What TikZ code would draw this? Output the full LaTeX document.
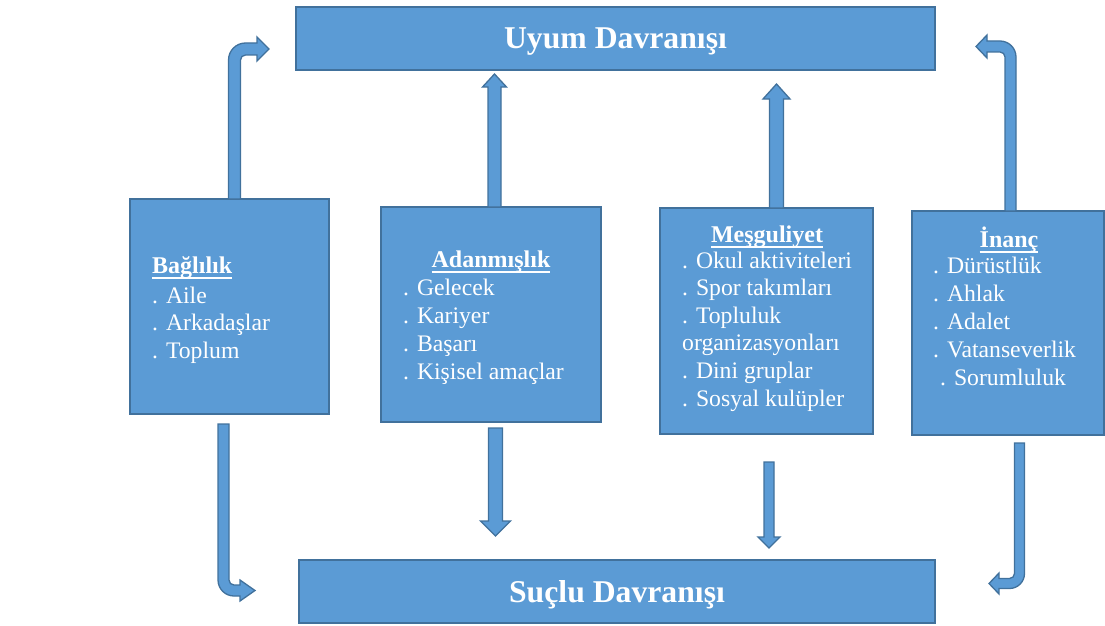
\documentclass[tikz,border=0pt]{standalone}
\usepackage{fontspec}
\setmainfont{Liberation Serif}
\usetikzlibrary{calc}
\definecolor{boxfill}{HTML}{5B9BD5}
\definecolor{boxedge}{HTML}{41719C}
\newcommand\hdline[1]{\setbox0=\hbox{#1}\rlap{\rule[-6pt]{\wd0}{2pt}}\box0}
\newcommand\straightblock[5]{%
  \path[blockarrow] ($(#1)+(-#3,0)$) -- ($(#2)+(-#3,#5)$) -- ($(#2)+(-#4,#5)$) -- (#2)
    -- ($(#2)+(#4,#5)$) -- ($(#2)+(#3,#5)$) -- ($(#1)+(#3,0)$) -- cycle;}
\begin{document}
\begin{tikzpicture}[x=1pt,y=-1pt,
  box/.style={draw=boxedge, fill=boxfill, line width=1.5pt, inner sep=0pt, outer sep=0pt, anchor=north west},
  blockarrow/.style={draw=boxedge, fill=boxfill, line width=1.3pt, line join=miter},
  title/.style={text=white, font=\fontsize{31.7}{36}\selectfont\bfseries, text depth=0pt},
  head/.style={text=white, font=\fontsize{24}{28}\selectfont\bfseries, inner sep=0pt},
  item/.style={text=white, font=\fontsize{23.7}{28}\selectfont, inner sep=0pt, anchor=base west}]
\useasboundingbox (0,0) rectangle (1105,626);

% boxes
\node[box, title, minimum width=639pt, minimum height=63pt] (u) at (296,7) {Uyum Davranışı};
\node[box, title, minimum width=636pt, minimum height=63pt] (s) at (299,560) {Suçlu Davranışı};
\node[box, minimum width=199pt, minimum height=215pt] (b1) at (130,199) {};
\node[box, minimum width=220pt, minimum height=215pt] (b2) at (381,207) {};
\node[box, minimum width=213pt, minimum height=226pt] (b3) at (660,208) {};
\node[box, minimum width=192pt, minimum height=224pt] (b4) at (912,211) {};

% arrow end points
\coordinate (s1) at ($(b1.north)+(5,0)$);
\coordinate (t1) at ($(u.west)+(-27,10.5)$);
\coordinate (s4) at ($(b4.north)+(2.5,0)$);
\coordinate (t4) at ($(u.east)+(41,8)$);
\coordinate (sb1) at ($(b1.south)+(-6,10)$);
\coordinate (tb1) at ($(s.west)+(-44,-1)$);
\coordinate (sb4) at ($(b4.south)+(11.5,8)$);
\coordinate (tb4) at ($(s.east)+(54,-8)$);
\coordinate (su2) at ($(b2.north)+(3.5,0)$);
\coordinate (tu2) at ($(u.south -| su2)+(0,4)$);
\coordinate (sd2) at ($(b2.south)+(4.5,6)$);
\coordinate (td2) at ($(s.north -| sd2)+(0,-24)$);
\coordinate (su3) at ($(b3.north)+(10,0)$);
\coordinate (tu3) at ($(u.south -| su3)+(0,14)$);
\coordinate (sd3) at ($(b3.south)+(2.5,28)$);
\coordinate (td3) at ($(s.north -| sd3)+(0,-12)$);

% straight block arrows
\straightblock{su2}{tu2}{6.5}{12}{13}
\straightblock{sd2}{td2}{7}{15}{-15}
\straightblock{su3}{tu3}{7}{13.5}{15}
\straightblock{sd3}{td3}{5}{11}{-11}

% bent block arrows
\path[blockarrow] ($(s1)+(-6,0)$) -- ($(s1|-t1)+(-6,11)$) arc[start angle=180,end angle=90,radius=17pt]
  -- ($(t1)+(-12,-6)$) -- ($(t1)+(-12,-12)$) -- (t1) -- ($(t1)+(-12,12)$) -- ($(t1)+(-12,6)$)
  -- ($(s1|-t1)+(11,6)$) arc[start angle=90,end angle=180,radius=5pt] -- ($(s1)+(6,0)$) -- cycle;
\path[blockarrow] ($(s4)+(-5.5,0)$) -- ($(s4|-t4)+(-5.5,10.5)$) arc[start angle=0,end angle=90,radius=5pt]
  -- ($(t4)+(11,5.5)$) -- ($(t4)+(11,11.5)$) -- (t4) -- ($(t4)+(11,-11.5)$) -- ($(t4)+(11,-5.5)$)
  -- ($(s4|-t4)+(-10.5,-5.5)$) arc[start angle=90,end angle=0,radius=16pt] -- ($(s4)+(5.5,0)$) -- cycle;
\path[blockarrow] ($(sb1)+(-5.5,0)$) -- ($(sb1|-tb1)+(-5.5,-10.5)$) arc[start angle=180,end angle=270,radius=16pt]
  -- ($(tb1)+(-15,5.5)$) -- ($(tb1)+(-15,10.5)$) -- (tb1) -- ($(tb1)+(-15,-10.5)$) -- ($(tb1)+(-15,-5.5)$)
  -- ($(sb1|-tb1)+(10.5,-5.5)$) arc[start angle=270,end angle=180,radius=5pt] -- ($(sb1)+(5.5,0)$) -- cycle;
\path[blockarrow] ($(sb4)+(5,0)$) -- ($(sb4|-tb4)+(5,-10)$) arc[start angle=0,end angle=-90,radius=15pt]
  -- ($(tb4)+(10,5)$) -- ($(tb4)+(10,10.5)$) -- (tb4) -- ($(tb4)+(10,-10.5)$) -- ($(tb4)+(10,-5)$)
  -- ($(sb4|-tb4)+(-10,-5)$) arc[start angle=-90,end angle=0,radius=5pt] -- ($(sb4)+(-5,0)$) -- cycle;

% texts
\node[head, anchor=base west] (h1) at (152,273) {\hdline{Bağlılık}};
\foreach \txt [count=\i] in {. Aile, . Arkadaşlar, . Toplum}
  \node[item] (l1-\i) at (152,{303+(\i-1)*27.5}) {\txt};

\node[head, anchor=base] (h2) at (491,267) {\hdline{Adanmışlık}};
\foreach \txt [count=\i] in {. Gelecek, . Kariyer, . Başarı, . Kişisel amaçlar}
  \node[item] (l2-\i) at (403,{295.5+(\i-1)*28}) {\txt};

\node[head, anchor=base] (h3) at (767,242) {\hdline{Meşguliyet}};
\foreach \txt [count=\i] in {. Okul aktiviteleri, . Spor takımları, . Topluluk, organizasyonları, . Dini gruplar, . Sosyal kulüpler}
  \node[item] (l3-\i) at (682,{268+(\i-1)*27.6}) {\txt};

\node[head, anchor=base] (h4) at (1009,247) {\hdline{İnanç}};
\foreach \txt [count=\i] in {. Dürüstlük, . Ahlak, . Adalet, . Vatanseverlik, \hspace*{7pt}. Sorumluluk}
  \node[item] (l4-\i) at (933,{273+(\i-1)*28}) {\txt};
\end{tikzpicture}
\end{document}
